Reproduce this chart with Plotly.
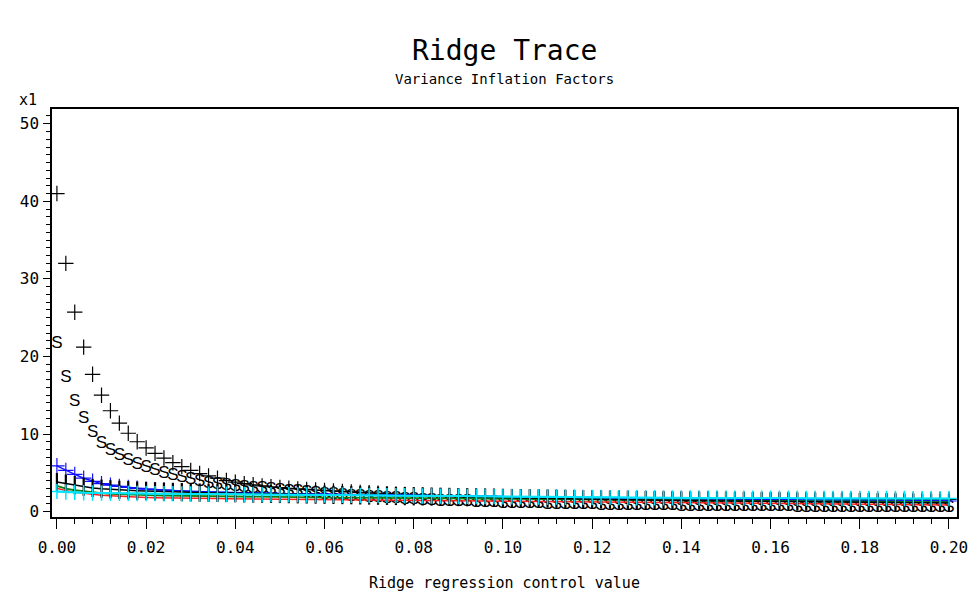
import plotly.graph_objects as go

# Ridge control values k = 0.000 .. 0.200 step 0.002
RIDGE_K = [round(0.002 * i, 3) for i in range(101)]

# Variance inflation factors (one list per variable)
VIF_X1 = [41.0, 32.0, 25.7, 21.2, 17.7, 15.0, 13.0, 11.4, 10.1, 9.0, 8.2,
          7.5, 6.9, 6.3, 5.8, 5.3, 4.9, 4.6, 4.3, 4.0, 3.8,
          3.6, 3.45, 3.3, 3.2, 3.1, 3.0, 2.92, 2.85, 2.78, 2.72,
          2.66, 2.6, 2.54, 2.48, 2.42, 2.36, 2.3, 2.25, 2.2, 2.15,
          2.1, 2.06, 2.02, 1.99, 1.96, 1.93, 1.9, 1.88, 1.86, 1.84,
          1.83, 1.82, 1.81, 1.8, 1.79, 1.78, 1.77, 1.76, 1.75, 1.74,
          1.73, 1.72, 1.71, 1.7, 1.69, 1.69, 1.68, 1.68, 1.67, 1.67,
          1.66, 1.66, 1.65, 1.65, 1.64, 1.64, 1.63, 1.63, 1.62, 1.62,
          1.61, 1.61, 1.6, 1.6, 1.6, 1.59, 1.59, 1.59, 1.58, 1.58,
          1.58, 1.57, 1.57, 1.57, 1.57, 1.56, 1.56, 1.56, 1.56, 1.56]
VIF_X2 = [21.6, 17.3, 14.1, 12.0, 10.1, 8.8, 7.9, 7.2, 6.6, 6.1, 5.6,
          5.2, 4.9, 4.6, 4.3, 4.05, 3.85, 3.65, 3.5, 3.35, 3.2,
          3.1, 3.0, 2.9, 2.8, 2.7, 2.6, 2.5, 2.4, 2.3, 2.2,
          2.12, 2.04, 1.96, 1.88, 1.8, 1.73, 1.66, 1.6, 1.54, 1.48,
          1.43, 1.38, 1.33, 1.29, 1.25, 1.21, 1.17, 1.13, 1.1, 1.07,
          1.04, 1.01, 0.98, 0.95, 0.92, 0.9, 0.88, 0.86, 0.84, 0.82,
          0.8, 0.78, 0.76, 0.75, 0.74, 0.72, 0.71, 0.7, 0.69, 0.68,
          0.67, 0.66, 0.65, 0.64, 0.63, 0.62, 0.61, 0.6, 0.59, 0.58,
          0.57, 0.56, 0.55, 0.54, 0.53, 0.52, 0.51, 0.5, 0.5, 0.49,
          0.48, 0.47, 0.47, 0.46, 0.45, 0.45, 0.44, 0.44, 0.43, 0.43]
VIF_X3 = [5.9, 5.3, 4.8, 4.3, 3.9, 3.6, 3.4, 3.25, 3.1, 3.0, 2.9,
          2.82, 2.76, 2.7, 2.65, 2.6, 2.56, 2.52, 2.48, 2.45, 2.42,
          2.4, 2.38, 2.36, 2.34, 2.32, 2.3, 2.28, 2.26, 2.25, 2.23,
          2.22, 2.2, 2.19, 2.17, 2.16, 2.14, 2.13, 2.11, 2.1, 2.08,
          2.07, 2.05, 2.04, 2.02, 2.01, 1.99, 1.98, 1.96, 1.95, 1.93,
          1.92, 1.9, 1.89, 1.87, 1.86, 1.84, 1.83, 1.81, 1.8, 1.78,
          1.77, 1.75, 1.74, 1.72, 1.71, 1.69, 1.68, 1.66, 1.65, 1.63,
          1.62, 1.61, 1.59, 1.58, 1.57, 1.56, 1.55, 1.54, 1.53, 1.52,
          1.51, 1.5, 1.49, 1.48, 1.47, 1.46, 1.45, 1.44, 1.43, 1.42,
          1.42, 1.41, 1.4, 1.4, 1.39, 1.38, 1.38, 1.37, 1.36, 1.36]
VIF_X4 = [3.8, 3.6, 3.4, 3.2, 3.05, 2.95, 2.87, 2.8, 2.75, 2.7, 2.65,
          2.61, 2.57, 2.54, 2.51, 2.48, 2.45, 2.43, 2.41, 2.39, 2.37,
          2.35, 2.33, 2.31, 2.29, 2.27, 2.25, 2.23, 2.21, 2.19, 2.17,
          2.15, 2.13, 2.11, 2.09, 2.07, 2.05, 2.03, 2.01, 1.99, 1.97,
          1.95, 1.93, 1.91, 1.89, 1.87, 1.85, 1.83, 1.81, 1.79, 1.77,
          1.75, 1.73, 1.71, 1.69, 1.67, 1.65, 1.63, 1.61, 1.59, 1.57,
          1.55, 1.53, 1.52, 1.5, 1.49, 1.47, 1.46, 1.44, 1.43, 1.42,
          1.41, 1.4, 1.39, 1.38, 1.37, 1.36, 1.35, 1.34, 1.33, 1.32,
          1.31, 1.3, 1.29, 1.28, 1.27, 1.26, 1.25, 1.24, 1.23, 1.22,
          1.21, 1.2, 1.19, 1.18, 1.17, 1.16, 1.15, 1.14, 1.13, 1.12]
VIF_X5 = [3.0, 2.7, 2.5, 2.35, 2.22, 2.12, 2.04, 1.97, 1.91, 1.86, 1.82,
          1.79, 1.76, 1.74, 1.72, 1.7, 1.69, 1.68, 1.67, 1.66, 1.65,
          1.64, 1.63, 1.62, 1.61, 1.6, 1.59, 1.58, 1.57, 1.56, 1.55,
          1.54, 1.53, 1.52, 1.51, 1.5, 1.49, 1.48, 1.47, 1.46, 1.45,
          1.44, 1.43, 1.42, 1.41, 1.4, 1.39, 1.38, 1.37, 1.36, 1.35,
          1.34, 1.33, 1.32, 1.31, 1.3, 1.29, 1.28, 1.27, 1.26, 1.25,
          1.24, 1.23, 1.22, 1.21, 1.2, 1.19, 1.18, 1.17, 1.16, 1.15,
          1.14, 1.13, 1.12, 1.11, 1.1, 1.09, 1.08, 1.07, 1.06, 1.05,
          1.04, 1.03, 1.02, 1.01, 1.0, 0.99, 0.98, 0.97, 0.96, 0.95,
          0.94, 0.93, 0.92, 0.91, 0.9, 0.89, 0.88, 0.87, 0.86, 0.85]
VIF_X6 = [3.3, 2.95, 2.75, 2.6, 2.48, 2.38, 2.3, 2.24, 2.19, 2.15, 2.11,
          2.08, 2.05, 2.03, 2.01, 1.99, 1.97, 1.95, 1.94, 1.93, 1.92,
          1.91, 1.9, 1.89, 1.88, 1.87, 1.86, 1.85, 1.84, 1.83, 1.82,
          1.81, 1.8, 1.79, 1.78, 1.77, 1.76, 1.75, 1.74, 1.73, 1.72,
          1.71, 1.7, 1.69, 1.68, 1.67, 1.66, 1.65, 1.64, 1.63, 1.62,
          1.61, 1.6, 1.59, 1.58, 1.57, 1.56, 1.55, 1.54, 1.53, 1.52,
          1.51, 1.5, 1.49, 1.48, 1.47, 1.46, 1.45, 1.44, 1.43, 1.42,
          1.41, 1.41, 1.4, 1.39, 1.38, 1.38, 1.37, 1.36, 1.35, 1.35,
          1.34, 1.33, 1.33, 1.32, 1.31, 1.31, 1.3, 1.29, 1.29, 1.28,
          1.28, 1.27, 1.27, 1.26, 1.26, 1.25, 1.25, 1.24, 1.24, 1.23]
VIF_X7 = [2.6, 2.52, 2.47, 2.43, 2.4, 2.38, 2.36, 2.35, 2.34, 2.33, 2.32,
          2.31, 2.3, 2.29, 2.28, 2.27, 2.26, 2.25, 2.24, 2.23, 2.22,
          2.21, 2.2, 2.19, 2.18, 2.17, 2.16, 2.15, 2.14, 2.13, 2.12,
          2.11, 2.1, 2.09, 2.08, 2.07, 2.06, 2.05, 2.04, 2.03, 2.02,
          2.01, 2.0, 1.99, 1.98, 1.97, 1.96, 1.95, 1.94, 1.93, 1.92,
          1.91, 1.9, 1.89, 1.88, 1.87, 1.86, 1.85, 1.84, 1.83, 1.82,
          1.81, 1.8, 1.8, 1.79, 1.79, 1.78, 1.78, 1.77, 1.77, 1.76,
          1.76, 1.75, 1.75, 1.74, 1.74, 1.73, 1.73, 1.72, 1.72, 1.72,
          1.71, 1.71, 1.71, 1.7, 1.7, 1.7, 1.7, 1.69, 1.69, 1.69,
          1.69, 1.68, 1.68, 1.68, 1.68, 1.67, 1.67, 1.67, 1.67, 1.67]

X_TICKS = [0.00, 0.02, 0.04, 0.06, 0.08, 0.10, 0.12, 0.14, 0.16, 0.18, 0.20]
X_TICK_LABELS = ["0.00", "0.02", "0.04", "0.06", "0.08", "0.10",
                 "0.12", "0.14", "0.16", "0.18", "0.20"]
Y_TICKS = [0, 10, 20, 30, 40, 50]
Y_TICK_LABELS = ["0", "10", "20", "30", "40", "50"]

FONT = "Liberation Sans, Arial, sans-serif"
MONO = "DejaVu Sans Mono, Liberation Mono, monospace"

fig = go.Figure()

# X1: black plus markers
fig.add_trace(go.Scatter(
    x=RIDGE_K, y=VIF_X1, mode="markers", name="X1",
    marker=dict(symbol="cross-thin", size=11, line=dict(color="black", width=1.2))))
# X2: black 'S' characters
fig.add_trace(go.Scatter(
    x=RIDGE_K, y=VIF_X2, mode="text", name="X2",
    text=["S"] * len(RIDGE_K), textposition="middle center",
    textfont=dict(family=FONT, size=17, color="black")))
# X3: blue line with plus markers
fig.add_trace(go.Scatter(
    x=RIDGE_K, y=VIF_X3, mode="lines+markers", name="X3",
    line=dict(color="#1010ff", width=1.5),
    marker=dict(symbol="cross-thin", size=11, line=dict(color="#1010ff", width=1.2))))
# X5: red line
fig.add_trace(go.Scatter(
    x=RIDGE_K, y=VIF_X5, mode="lines", name="X5",
    line=dict(color="#ff2020", width=1.5)))
# X6: green line
fig.add_trace(go.Scatter(
    x=RIDGE_K, y=VIF_X6, mode="lines", name="X6",
    line=dict(color="#108010", width=1.8)))
# X4: black line with vertical bar markers
fig.add_trace(go.Scatter(
    x=RIDGE_K, y=VIF_X4, mode="lines+markers", name="X4",
    line=dict(color="black", width=1.5),
    marker=dict(symbol="line-ns", size=13, line=dict(color="black", width=2.2))))
# X7: cyan line with plus markers
fig.add_trace(go.Scatter(
    x=RIDGE_K, y=VIF_X7, mode="lines+markers", name="X7",
    line=dict(color="#00e5ff", width=1.8),
    marker=dict(symbol="cross-thin", size=11, line=dict(color="#00e5ff", width=1.5))))

# page body has an 8px margin, so the figure is sized to 972x590
fig.update_layout(
    width=972, height=590,
    margin=dict(l=36, r=18, t=101, b=81),
    paper_bgcolor="white", plot_bgcolor="white",
    showlegend=False,
    font=dict(family=MONO, color="black"),
    xaxis=dict(
        range=[-0.0011, 0.2018], tickmode="array", tickvals=X_TICKS,
        ticktext=X_TICK_LABELS, ticks="outside", ticklen=10, tickwidth=1.3,
        tickcolor="black", tickfont=dict(family=MONO, size=16, color="black"),
        ticklabelstandoff=5,
        minor=dict(dtick=0.004, tick0=0, ticks="outside", ticklen=5,
                   tickwidth=1.2, tickcolor="black", showgrid=False),
        showline=True, linecolor="black", linewidth=1.5, mirror=True,
        showgrid=False, zeroline=False),
    yaxis=dict(
        range=[-0.7, 51.9], tickmode="array", tickvals=Y_TICKS,
        ticktext=Y_TICK_LABELS, ticks="outside", ticklen=7, tickwidth=1.3,
        tickcolor="black", tickfont=dict(family=MONO, size=16, color="black"),
        ticklabelstandoff=1,
        minor=dict(dtick=1, tick0=0, ticks="outside", ticklen=4,
                   tickwidth=1.1, tickcolor="black", showgrid=False),
        showline=True, linecolor="black", linewidth=1.5, mirror=True,
        showgrid=False, zeroline=False),
    annotations=[
        dict(text="Ridge Trace", xref="paper", yref="paper", x=0.5, y=1.1446,
             xanchor="center", yanchor="middle", showarrow=False,
             font=dict(family=MONO, size=28, color="black")),
        dict(text="Variance Inflation Factors", xref="paper", yref="paper",
             x=0.5, y=1.0735, xanchor="center", yanchor="middle", showarrow=False,
             font=dict(family=MONO, size=14, color="black")),
        dict(text="x1", xref="paper", yref="paper", x=-0.0265, y=1.022,
             xanchor="center", yanchor="middle", showarrow=False,
             font=dict(family=MONO, size=15, color="black")),
        dict(text="Ridge regression control value", xref="paper", yref="paper",
             x=0.5, y=-0.1618, xanchor="center", yanchor="middle", showarrow=False,
             font=dict(family=MONO, size=15, color="black")),
    ],
)

fig.write_html("out.html")
